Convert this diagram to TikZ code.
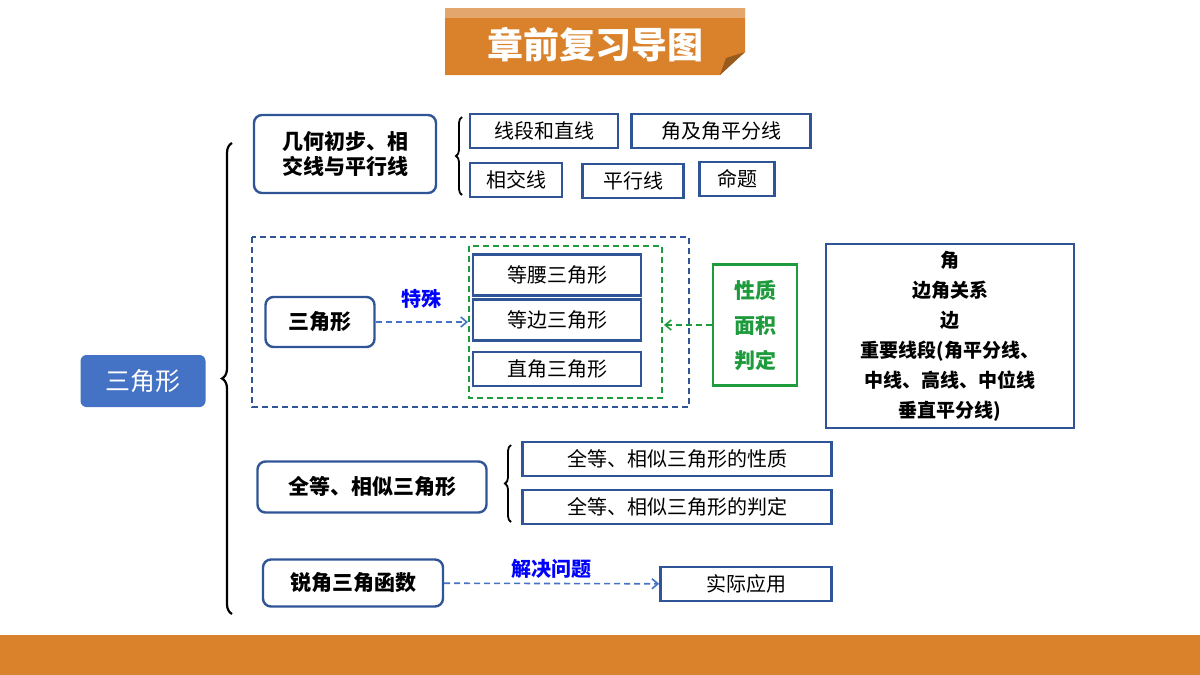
\documentclass[tikz,border=0pt]{standalone}
\usepackage{fontspec}
\setmainfont{Noto Sans CJK SC}
\usetikzlibrary{positioning}
\usetikzlibrary{arrows.meta}
\usetikzlibrary{decorations.pathreplacing}
\definecolor{orng}{HTML}{D9822B}
\definecolor{orngLt}{HTML}{E3A66C}
\definecolor{navy}{HTML}{2F5597}
\definecolor{mainBlue}{HTML}{4472C4}
\definecolor{grn}{HTML}{1E9B3C}
\tikzset{topic/.style={draw=navy, line width=2.4pt, rounded corners=8pt, font=\fontsize{21}{25}\selectfont\bfseries, inner sep=0pt, align=center}}
\tikzset{leaf/.style={draw=navy, line width=2.6pt, font=\fontsize{20}{22}\selectfont, inner sep=0pt}}
\tikzset{longDash/.style={dash pattern=on 6pt off 4pt}}
\tikzset{dashArrow/.style={-{Straight Barb[length=6pt, width=10pt]}, longDash, line width=1.6pt}}
\tikzset{bigBrace/.style={decorate, decoration={brace, amplitude=#1}, line width=2.2pt}}

\begin{document}
\begin{tikzpicture}[x=1pt, y=-1pt]
\useasboundingbox (0,0) rectangle (1200,675);

% title banner
\fill[orng] (445,8) -- (745,8) -- (745,52) -- (720,75) -- (445,75) -- cycle;
\fill[orngLt] (445,8) rectangle (745,18);
\fill[orng!70!black] (745,52) -- (720,75) -- (726,58) -- cycle;
\node[text=white, font=\fontsize{36}{38}\selectfont\bfseries] (title) at (595,45) {章前复习导图};
\fill[orng] (0,635) rectangle (1200,675);

\node[fill=mainBlue, rounded corners=6pt, minimum width=125pt, minimum height=52pt, text=white, font=\fontsize{25}{28}\selectfont] (tri) at (143,381) {三角形};
\draw[bigBrace=10pt] (232,614) -- (232,143);

% first branch
\node[topic, minimum width=182pt, minimum height=78pt] (geo) at (345,154) {几何初步、相\\交线与平行线};
\draw[bigBrace=6pt, line width=1.8pt] (462,195) -- (462,117);
\node[leaf, minimum width=148pt, minimum height=34pt] (seg) at (544,131) {线段和直线};
\node[leaf, minimum width=179pt, minimum height=34pt] (ang) at (721,131) {角及角平分线};
\node[leaf, minimum width=92pt, minimum height=34pt] (cross) at (516,180) {相交线};
\node[leaf, minimum width=101pt, minimum height=34pt] (para) at (633,181) {平行线};
\node[leaf, minimum width=75pt, minimum height=34pt] (prop) at (737,179) {命题};

% triangle branch
\draw[navy, longDash, line width=1.5pt] (252,237) rectangle (689,407);
\draw[grn, longDash, line width=1.5pt] (469,246) rectangle (662,398);
\node[topic, minimum width=109pt, minimum height=50pt] (tri2) at (320,322) {三角形};
\node[leaf, minimum width=168pt, minimum height=41pt] (iso) at (557,275) {等腰三角形};
\node[leaf, minimum width=168pt, minimum height=41pt] (equi) at (557,320) {等边三角形};
\node[leaf, minimum width=168pt, minimum height=34pt] (right) at (557,369) {直角三角形};
\draw[dashArrow, mainBlue] (tri2) -- (468,322) node[midway, above=9pt, text=blue, font=\fontsize{20}{22}\selectfont\bfseries] (spec) {特殊};
\node[draw=grn, line width=2.4pt, text=grn, minimum width=84pt, minimum height=121pt, align=center, font=\fontsize{21}{35}\selectfont\bfseries] (pack) at (755,325) {性质\\面积\\判定};
\draw[dashArrow, grn] (pack) -- (664,325);
\node[leaf, line width=2.4pt, minimum width=248pt, minimum height=184pt, align=center, font=\fontsize{19}{30}\selectfont\bfseries] (facts) at (950,336) {角\\边角关系\\边\\重要线段(角平分线、\\中线、高线、中位线\\垂直平分线)};

% congruence branch
\node[topic, minimum width=229pt, minimum height=51pt] (cong) at (372,487) {全等、相似三角形};
\draw[bigBrace=6pt, line width=1.8pt] (511,522) -- (511,445);
\node[leaf, minimum width=309pt, minimum height=34pt] (congP) at (677,459) {全等、相似三角形的性质};
\node[leaf, minimum width=309pt, minimum height=34pt] (congJ) at (677,507) {全等、相似三角形的判定};

% trig branch
\node[topic, minimum width=180pt, minimum height=47pt] (trig) at (353,583) {锐角三角函数};
\node[leaf, minimum width=171pt, minimum height=34pt] (app) at (746,584) {实际应用};
\draw[dashArrow, mainBlue] (trig) -- (app) node[midway, above=1pt, text=blue, font=\fontsize{20}{22}\selectfont\bfseries] (solve) {解决问题};
\end{tikzpicture}
\end{document}
